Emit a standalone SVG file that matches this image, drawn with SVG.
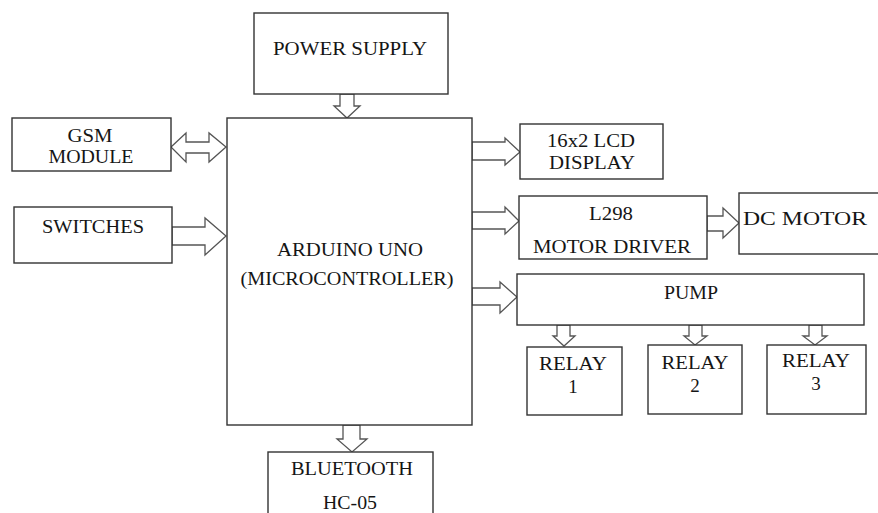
<svg xmlns="http://www.w3.org/2000/svg" width="878" height="513" viewBox="0 0 878 513">
<style>
.box{fill:#fff;stroke:#333;stroke-width:1.4}
.arr{fill:#fff;stroke:#555;stroke-width:1.3;stroke-linejoin:miter}
text{font-family:"Liberation Serif","Times New Roman",serif;font-size:19px;fill:#151515;text-anchor:middle}
</style>
<rect width="878" height="513" fill="#fff"/>
<g id="connectors">
<path class="arr" d="M340,94 L354,94 L354,106 L360,106 L347,118 L334,106 L340,106 Z"/>
<path class="arr" d="M171,147 L186,133 L186,142 L209,142 L209,133 L226,147 L209,162 L209,153 L186,153 L186,162 Z"/>
<path class="arr" d="M172,227 L205,227 L205,218 L226,236 L205,255 L205,245 L172,245 Z"/>
<path class="arr" d="M472,142 L505,142 L505,138 L520,152 L505,165 L505,160 L472,160 Z"/>
<path class="arr" d="M472,212 L505,212 L505,207 L519,221 L505,234 L505,229 L472,229 Z"/>
<path class="arr" d="M707,216 L723,216 L723,208 L739,223 L723,238 L723,231 L707,231 Z"/>
<path class="arr" d="M472,288 L500,288 L500,282 L517,297 L500,313 L500,305 L472,305 Z"/>
<path class="arr" d="M557,325 L570,325 L570,336 L575,336 L564,346 L553,336 L557,336 Z"/>
<path class="arr" d="M689,325 L702,325 L702,336 L707,336 L695,345 L684,336 L689,336 Z"/>
<path class="arr" d="M809,325 L822,325 L822,336 L827,336 L815,345 L803,336 L809,336 Z"/>
<path class="arr" d="M343,425 L360,425 L360,439 L367,439 L352,452 L337,439 L343,439 Z"/>
</g>
<g id="power-supply">
<rect class="box" x="254" y="13" width="194" height="81"/>
<text x="350" y="55" textLength="154" lengthAdjust="spacingAndGlyphs">POWER SUPPLY</text>
</g>
<g id="arduino">
<rect class="box" x="227" y="118" width="245" height="307"/>
<text x="350" y="256" textLength="146" lengthAdjust="spacingAndGlyphs">ARDUINO UNO</text>
<text x="347" y="285" textLength="213" lengthAdjust="spacingAndGlyphs">(MICROCONTROLLER)</text>
</g>
<g id="gsm">
<rect class="box" x="12" y="118" width="159" height="53"/>
<text x="90" y="142" textLength="45" lengthAdjust="spacingAndGlyphs">GSM</text>
<text x="91" y="163" textLength="85" lengthAdjust="spacingAndGlyphs">MODULE</text>
</g>
<g id="switches">
<rect class="box" x="14" y="207" width="158" height="56"/>
<text x="93" y="233" textLength="102" lengthAdjust="spacingAndGlyphs">SWITCHES</text>
</g>
<g id="lcd">
<rect class="box" x="520" y="124" width="143" height="55"/>
<text x="591" y="147" textLength="88" lengthAdjust="spacingAndGlyphs">16x2 LCD</text>
<text x="592" y="169" textLength="86" lengthAdjust="spacingAndGlyphs">DISPLAY</text>
</g>
<g id="motor-driver">
<rect class="box" x="519" y="196" width="188" height="63"/>
<text x="611" y="220" textLength="44" lengthAdjust="spacingAndGlyphs">L298</text>
<text x="612" y="253" textLength="158" lengthAdjust="spacingAndGlyphs">MOTOR DRIVER</text>
</g>
<g id="dc-motor">
<rect class="box" x="739" y="193" width="142" height="61"/>
<text x="805" y="225" textLength="124" lengthAdjust="spacingAndGlyphs">DC MOTOR</text>
</g>
<g id="pump">
<rect class="box" x="517" y="274" width="347" height="51"/>
<text x="691" y="299" textLength="54" lengthAdjust="spacingAndGlyphs">PUMP</text>
</g>
<g id="relay1">
<rect class="box" x="527" y="347" width="95" height="68"/>
<text x="573" y="370" textLength="68" lengthAdjust="spacingAndGlyphs">RELAY</text>
<text x="573" y="393">1</text>
</g>
<g id="relay2">
<rect class="box" x="648" y="345" width="94" height="69"/>
<text x="695" y="369" textLength="67" lengthAdjust="spacingAndGlyphs">RELAY</text>
<text x="695" y="392">2</text>
</g>
<g id="relay3">
<rect class="box" x="767" y="345" width="99" height="69"/>
<text x="816" y="367" textLength="68" lengthAdjust="spacingAndGlyphs">RELAY</text>
<text x="816" y="390">3</text>
</g>
<g id="bluetooth">
<rect class="box" x="268" y="452" width="165" height="70"/>
<text x="352" y="475" textLength="122" lengthAdjust="spacingAndGlyphs">BLUETOOTH</text>
<text x="350" y="509" textLength="54" lengthAdjust="spacingAndGlyphs">HC-05</text>
</g>
</svg>
